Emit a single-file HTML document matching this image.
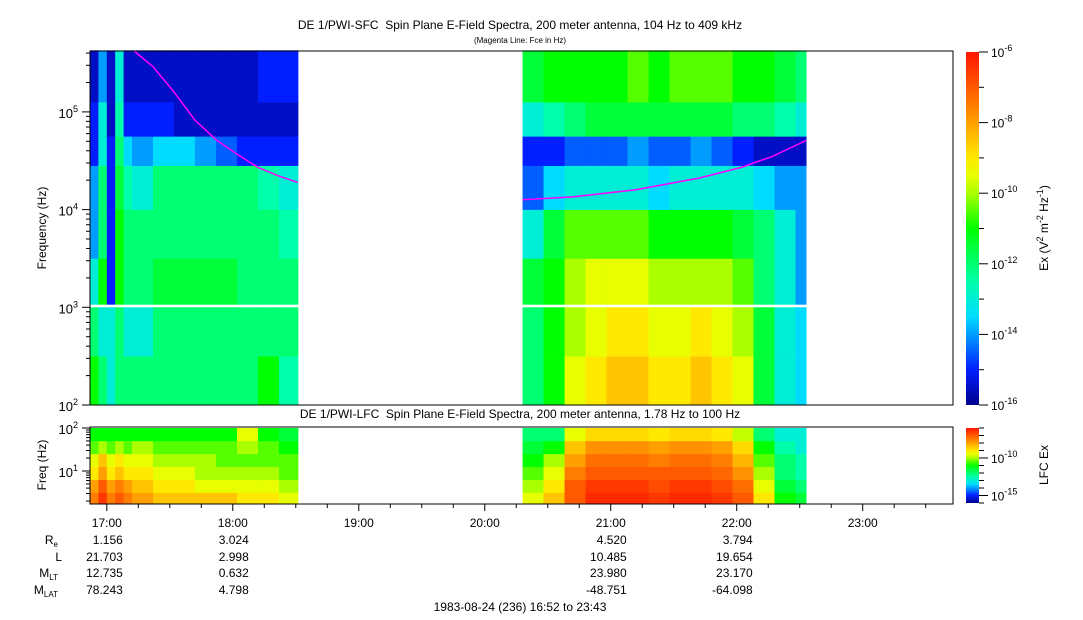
<!DOCTYPE html>
<html><head><meta charset="utf-8"><style>
html,body{margin:0;padding:0;background:#fff;}
svg{display:block;font-family:"Liberation Sans",Arial,sans-serif;}
</style></head><body>
<svg id="chart" width="1083" height="620" viewBox="0 0 1083 620">
<g id="sfc"></g>
<g id="lfc"></g>
<g id="axes"></g>
<text x="520" y="29" font-size="12" text-anchor="middle">DE 1/PWI-SFC&#160; Spin Plane E-Field Spectra, 200 meter antenna, 104 Hz to 409 kHz</text>
<text x="520" y="43" font-size="8" text-anchor="middle">(Magenta Line: Fce in Hz)</text>
<text x="520" y="418" font-size="12" text-anchor="middle">DE 1/PWI-LFC&#160; Spin Plane E-Field Spectra, 200 meter antenna, 1.78 Hz to 100 Hz</text>
<text x="520" y="611" font-size="12" text-anchor="middle">1983-08-24 (236) 16:52 to 23:43</text>
</svg>
<script>
// ---- data ----
const block1Starts = [0,4,8,12,16,20,30,40,50,60,70,80,90];
const block1End = 99;
const block2Starts = [206,216,226,236,246,256,266,276,286,296,306,316,326,336];
const block2End = 341;
const sfcBandLo = [2.0,2.5,3.03,3.5,4.0,4.45,4.75,5.1];
const sfcBandHi = [2.5,3.0,3.5,4.0,4.45,4.75,5.1,5.63];
const sfcBlock1 = [
 [-11,-12,-13,-14,-14,-15,-15,-15.5],
 [-12,-13,-11,-12,-12,-13,-13,-14],
 [-13,-13,-15,-15,-15,-15,-15.5,-15.5],
 [-12,-12,-11,-11,-11.5,-12,-12.5,-13],
 [-12,-13,-12,-12,-12.5,-13.5,-15,-15.5],
 [-12,-13,-12,-12,-13,-14,-15,-15.5],
 [-12,-12,-11.5,-12,-12,-13.5,-15,-15.5],
 [-12,-12,-11.5,-12,-12,-13.5,-15.5,-15.5],
 [-12,-12,-11.5,-12,-12,-14,-15.5,-15.5],
 [-12,-12,-11.5,-12,-12,-14.5,-15.5,-15.5],
 [-12,-12,-12,-12,-12,-15,-15.5,-15.5],
 [-11,-12,-12,-12,-12.5,-15,-15.5,-15],
 [-12.5,-12,-12,-12.5,-13,-15,-15.5,-15]
];
const sfcBlock2 = [
 [-12,-12,-11.5,-13,-14.5,-15,-13,-11.5],
 [-11,-11,-11,-11.5,-13.5,-15,-12.5,-11],
 [-9.5,-10,-10,-10.5,-13,-14.5,-12,-11],
 [-9,-9.5,-9.5,-10.5,-13,-14.5,-11.5,-11],
 [-8.5,-9,-9.5,-10.5,-13,-14.5,-11.5,-11],
 [-8.5,-9,-9.5,-10.5,-13,-14,-11.5,-10.5],
 [-9,-9.5,-10,-11,-13.5,-14.5,-11.5,-11],
 [-9,-9.5,-10,-11,-13,-14.5,-11.5,-10.5],
 [-8.5,-9,-10,-11,-13,-14,-11.5,-10.5],
 [-9,-9.5,-10,-11,-13,-14.5,-11.5,-10.5],
 [-9.5,-10,-10.5,-11.5,-13,-15,-12,-11],
 [-11.5,-11.5,-12,-12,-13.5,-15.5,-12,-11],
 [-13,-13,-13,-13,-14,-15.5,-12.5,-11.5],
 [-13.5,-13.5,-14,-14,-14,-15.5,-13,-12]
];
const lfcBandLo = [0.23,0.5,0.8,1.1,1.4,1.7];
const lfcBandHi = [0.5,0.8,1.1,1.4,1.7,2.0];
const lfcBlock1 = [
 [-7.5,-8,-9,-9.5,-10.5,-11],
 [-6.5,-7,-8,-8.5,-10,-11],
 [-7.5,-8,-9,-9.5,-10.5,-11],
 [-7,-7.5,-8.5,-9,-10,-11],
 [-7.5,-8,-9,-9.5,-10.5,-11],
 [-8,-8.5,-9,-9.5,-10,-11],
 [-8.5,-9,-9.5,-10,-10.5,-11],
 [-8.5,-9,-9.5,-10,-10.5,-11],
 [-8.5,-9.5,-10,-10,-10.5,-11],
 [-8.5,-9.5,-10,-10.5,-10.5,-11],
 [-9,-9.5,-10,-10.5,-10,-9.5],
 [-9,-9.5,-10,-10.5,-10.5,-11],
 [-9.5,-10,-10.5,-10.5,-11,-11.5]
];
const lfcBlock2 = [
 [-9.5,-10,-10.5,-11,-11.5,-12],
 [-8.5,-9,-9.5,-10,-11,-12],
 [-7,-7,-7.5,-8,-8.5,-9.5],
 [-6.3,-6.5,-7,-7.3,-7.8,-8.8],
 [-6.3,-6.5,-7,-7.3,-7.8,-8.8],
 [-6.3,-6.5,-7,-7.3,-7.8,-8.8],
 [-6.5,-6.8,-7,-7.5,-8,-9],
 [-6.3,-6.5,-7,-7.3,-7.8,-8.8],
 [-6.3,-6.5,-7,-7.3,-7.8,-8.8],
 [-6.5,-6.8,-7.2,-7.5,-8,-9],
 [-7,-7.3,-7.8,-8.3,-8.8,-9.8],
 [-9,-9.5,-10,-10.5,-11,-12],
 [-11,-11.5,-12,-12,-12.5,-13],
 [-11.5,-12,-12.5,-12.5,-13,-13]
];
const fce1Times = [21,30,40,50,60,70,80,90,99];
const fce1Vals = [420000,290000,160000,82000,52000,37000,27000,22000,19000];
const fce2Times = [206,230,260,290,310,325,341];
const fce2Vals = [12600,13500,16000,21000,27000,35000,51000];
const hourLabels = ["17:00","18:00","19:00","20:00","21:00","22:00","23:00"];
const hourMinutes = [8,68,128,188,248,308,368];
const ephTimes = [8,68,248,308];
const ephRe = ["1.156","3.024","4.520","3.794"];
const ephL = ["21.703","2.998","10.485","19.654"];
const ephMLT = ["12.735","0.632","23.980","23.170"];
const ephMLAT = ["78.243","4.798","-48.751","-64.098"];

// ---- axes functions ----
const X0=90, X1=953, TMAX=411;
const xs = t => X0 + t/TMAX*(X1-X0);
const MT=51, MB=405, MLO=2, MHI=2+(405-51)/97.7;
const ys = lf => MB - (lf-MLO)/(MHI-MLO)*(MB-MT);
const LT=427, LB=504;
const yl = lf => 471 - (lf-1)*43;
const NS="http://www.w3.org/2000/svg";
function mk(tag, attrs, parent){const e=document.createElementNS(NS,tag);for(const k in attrs)e.setAttribute(k,attrs[k]);parent.appendChild(e);return e;}
const stops=[[-16,[0,0,140]],[-15,[0,30,255]],[-13.5,[0,220,255]],[-12.5,[0,255,170]],[-11,[0,255,0]],[-10,[170,255,0]],[-9.3,[255,255,0]],[-8,[255,160,0]],[-6,[255,20,0]]];
function col(v){
  if(v<=stops[0][0])return 'rgb('+stops[0][1]+')';
  for(let i=1;i<stops.length;i++){if(v<=stops[i][0]){const a=stops[i-1],b=stops[i];const f=(v-a[0])/(b[0]-a[0]);const c=a[1].map((x,j)=>Math.round(x+(b[1][j]-x)*f));return 'rgb('+c+')';}}
  return 'rgb('+stops[stops.length-1][1]+')';
}
const sfc=document.getElementById('sfc'), lfc=document.getElementById('lfc'), ax=document.getElementById('axes');
function drawBlock(parent, starts, end, vals, lo, hi, yf, name){
  for(let i=0;i<starts.length;i++){
    const t0=starts[i], t1=(i+1<starts.length)?starts[i+1]:end;
    for(let b=0;b<lo.length;b++){
      const y0=yf(hi[b]), y1=yf(lo[b]);
      const r=mk('rect',{x:xs(t0),y:y0,width:xs(t1)-xs(t0)+0.5,height:y1-y0+0.3,fill:col(vals[i][b])},parent);
      
      
    }
  }
}
drawBlock(sfc,block1Starts,block1End,sfcBlock1,sfcBandLo,sfcBandHi,ys,'sfc');
drawBlock(sfc,block2Starts,block2End,sfcBlock2,sfcBandLo,sfcBandHi,ys,'sfc');
drawBlock(lfc,block1Starts,block1End,lfcBlock1,lfcBandLo,lfcBandHi,yl,'lfc');
drawBlock(lfc,block2Starts,block2End,lfcBlock2,lfcBandLo,lfcBandHi,yl,'lfc');
function fceLine(ts,vs){
  const p=ts.map((t,i)=>xs(t).toFixed(1)+','+ys(Math.log10(vs[i])).toFixed(1)).join(' ');
  const l=mk('polyline',{points:p,fill:'none',stroke:'#f0f','stroke-width':1.5},sfc);
  
  
}
fceLine(fce1Times,fce1Vals); fceLine(fce2Times,fce2Vals);
mk('rect',{x:X0,y:MT,width:X1-X0,height:MB-MT,fill:'none',stroke:'#000'},ax);
mk('rect',{x:X0,y:LT,width:X1-X0,height:LB-LT,fill:'none',stroke:'#000'},ax);
for(let d=2;d<=5;d++){
  for(let m=1;m<10;m++){
    const lf=d+Math.log10(m); if(lf>MHI)break;
    const y=ys(lf); mk('line',{x1:X0-(m==1?8:4),x2:X0,y1:y,y2:y,stroke:'#000'},ax);
  }
  const t=mk('text',{x:X0-12,y:ys(d)+6,'font-size':13,'text-anchor':'end'},ax);
  
  
  t.innerHTML='10<tspan dy="-6" font-size="9">'+d+'</tspan>';
}
for(let d=0;d<=2;d++){for(let m=1;m<10;m++){const lf=d+Math.log10(m);if(lf<0.23||lf>2)continue;const y=yl(lf);mk('line',{x1:X0-(m==1?8:4),x2:X0,y1:y,y2:y,stroke:'#000'},ax);}}
[1,2].forEach(d=>{const t=mk('text',{x:X0-12,y:yl(d)+6,'font-size':13,'text-anchor':'end'},ax);t.innerHTML='10<tspan dy="-6" font-size="9">'+d+'</tspan>';});
for(let t=8;t<=TMAX;t+=15){const x=xs(t);const maj=((t-8)%60==0);mk('line',{x1:x,x2:x,y1:LB,y2:LB+(maj?7:4),stroke:'#000'},ax);}
hourLabels.forEach((s,i)=>{const t=mk('text',{x:xs(hourMinutes[i]),y:527,'font-size':12,'text-anchor':'middle'},ax);t.textContent=s;});
let t=mk('text',{transform:'translate(46,228) rotate(-90)','font-size':12,'text-anchor':'middle'},ax);t.textContent='Frequency (Hz)';
t=mk('text',{transform:'translate(46,465) rotate(-90)','font-size':12,'text-anchor':'middle'},ax);t.textContent='Freq (Hz)';
const defs=mk('defs',{},ax);
const g=mk('linearGradient',{id:'cb',x1:0,y1:1,x2:0,y2:0},defs);
for(let v=-16;v<=-6;v+=0.5){mk('stop',{offset:((v+16)/10).toFixed(3),'stop-color':col(v)},g);}
let cb=mk('rect',{x:966,y:52,width:13,height:353,fill:'url(#cb)'},ax);
cb=mk('rect',{x:966,y:428,width:13,height:75,fill:'url(#cb)'},ax);
for(let v=-16;v<=-6;v++){const y=405-(v+16)*35.3;mk('line',{x1:979,x2:(v%2==0?988:984),y1:y,y2:y,stroke:'#000'},ax);
 if(v%2==0){const tt=mk('text',{x:991,y:y+5,'font-size':12},ax);tt.innerHTML='10<tspan dy="-6" font-size="9">'+v+'</tspan>';}}
for(let v=-16;v<=-6;v++){const y=503-(v+16)*7.5;mk('line',{x1:979,x2:(v%5==0?988:984),y1:y,y2:y,stroke:'#000'},ax);}
[-10,-15].forEach(v=>{const y=503-(v+16)*7.5;const tt=mk('text',{x:991,y:y+5,'font-size':12},ax);tt.innerHTML='10<tspan dy="-6" font-size="9">'+v+'</tspan>';});
t=mk('text',{transform:'translate(1048,228) rotate(-90)','font-size':12,'text-anchor':'middle'},ax);t.innerHTML='Ex (V<tspan dy="-5" font-size="9">2</tspan><tspan dy="5"> m</tspan><tspan dy="-5" font-size="9">-2</tspan><tspan dy="5"> Hz</tspan><tspan dy="-5" font-size="9">-1</tspan><tspan dy="5">)</tspan>';
t=mk('text',{transform:'translate(1048,465) rotate(-90)','font-size':12,'text-anchor':'middle'},ax);t.textContent='LFC Ex';
const rows=[[ephRe,544,'R','e'],[ephL,561,'L',''],[ephMLT,577,'M','LT'],[ephMLAT,594,'M','LAT']];
rows.forEach(r=>{
  const lab=mk('text',{x:r[3]?58:62,y:r[1],'font-size':12,'text-anchor':'end'},ax);
  
  lab.innerHTML=r[2]+(r[3]?'<tspan dy="3" font-size="8">'+r[3]+'</tspan>':'');
  r[0].forEach((s,i)=>{const e=mk('text',{x:xs(ephTimes[i])+16,y:r[1],'font-size':12,'text-anchor':'end'},ax);e.textContent=s;});
});
</script>
</body></html>
